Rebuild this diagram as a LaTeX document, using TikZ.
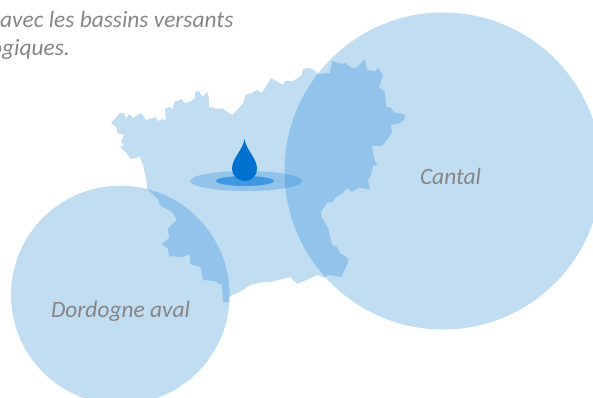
\documentclass[tikz,border=0pt]{standalone}
\usepackage{fontspec}
\setmainfont{Carlito}
\definecolor{lightblue}{HTML}{C1DDF2}
\definecolor{midblue}{HTML}{92C4EB}
\definecolor{overlapblue}{HTML}{6FB1E6}
\definecolor{innerblue}{HTML}{3F98E0}
\definecolor{dropblue}{HTML}{0071CE}
\definecolor{textgray}{HTML}{868686}
\tikzset{
  caption/.style={font=\fontsize{23.4}{28}\selectfont\itshape, text=textgray, inner sep=0pt, anchor=base},
  introline/.style={font=\fontsize{23.4}{28}\selectfont\itshape, text=textgray, inner sep=0pt, anchor=base west}
}
\newcommand{\mapoutline}{(111,123) -- (120,113) -- (124,113) -- (126,118) -- (129,114) -- (133,118) -- (141,113) -- (146,120) -- (156,117) -- (158,121) -- (163,119) -- (166,121) -- (165,109) -- (169,107) -- (173,109) -- (174,102) -- (182,99) -- (184,103) -- (190,102) -- (195,98) -- (195,92) -- (199,91) -- (202,97) -- (207,92) -- (209,98) -- (209,107) -- (218,109) -- (222,108) -- (232,115) -- (240,107) -- (244,102) -- (245,95) -- (252,93) -- (257,90) -- (262,93) -- (271,78) -- (283,85) -- (285,81) -- (293,81) -- (302,75) -- (303,69) -- (310,68) -- (315,71) -- (318,74) -- (330,73) -- (332,61) -- (342,64) -- (345,63) -- (352,68) -- (356,68) -- (365,59) -- (367,70) -- (375,71) -- (378,68) -- (383,75) -- (379,87) -- (385,92) -- (386,107) -- (391,108) -- (395,113) -- (398,113) -- (405,115) -- (404,120) -- (400,123) -- (391,125) -- (392,133) -- (382,146) -- (372,146) -- (373,153) -- (375,162) -- (378,164) -- (373,166) -- (371,175) -- (368,180) -- (370,190) -- (363,188) -- (358,188) -- (352,192) -- (347,188) -- (342,194) -- (335,198) -- (333,202) -- (327,203) -- (321,212) -- (322,218) -- (328,228) -- (332,245) -- (337,247) -- (340,253) -- (348,258) -- (348,263) -- (341,277) -- (328,275) -- (324,278) -- (318,275) -- (297,284) -- (290,277) -- (270,282) -- (263,282) -- (250,285) -- (243,290) -- (229,297) -- (229,302) -- (223,302) -- (222,285) -- (214,281) -- (203,280) -- (201,267) -- (190,264) -- (190,254) -- (183,257) -- (169,256) -- (168,249) -- (162,244) -- (169,238) -- (168,229) -- (171,225) -- (177,220) -- (173,213) -- (160,205) -- (157,198) -- (147,189) -- (146,178) -- (143,165) -- (140,157) -- (131,159) -- (127,154) -- (120,147) -- (124,145) -- (121,142) -- (124,135) -- (117,133) -- (117,128) -- cycle}
\newcommand{\cantalcircle}{(443,171) circle [radius=158.5]}
\newcommand{\dordognecircle}{(120.3,295) circle [radius=109.3]}
\begin{document}
\begin{tikzpicture}[x=1pt,y=-1pt]
\useasboundingbox (0,0) rectangle (593,398);
\clip (0,0) rectangle (593,398);
\fill[lightblue] \mapoutline;
\fill[lightblue] \cantalcircle;
\fill[lightblue] \dordognecircle;
\begin{scope}
  \clip \cantalcircle;
  \fill[midblue] \mapoutline;
\end{scope}
\begin{scope}
  \clip \dordognecircle;
  \fill[midblue] \mapoutline;
\end{scope}
\fill[midblue] (246,181) ellipse [x radius=56, y radius=10];
\begin{scope}
  \clip \cantalcircle;
  \fill[overlapblue] (246,181) ellipse [x radius=56, y radius=10];
\end{scope}
\fill[innerblue] (245,181) ellipse [x radius=29, y radius=5];
\fill[dropblue] (244.5,139) .. controls (246,150) and (257,158) .. (257,169)
  .. controls (257,176) and (251.5,181) .. (245,181)
  .. controls (238.5,181) and (232,176) .. (232,169)
  .. controls (232,158) and (243,150) .. (244.5,139) -- cycle;
\node[caption] (cantal) at (450.5,184) {Cantal};
\node[caption] (dordogne) at (120.5,317) {Dordogne aval};
\node[introline] (line1) at (0,28) {avec les bassins versants};
\node[introline] (line2) at (-10,56) {ogiques.};
\end{tikzpicture}
\end{document}
